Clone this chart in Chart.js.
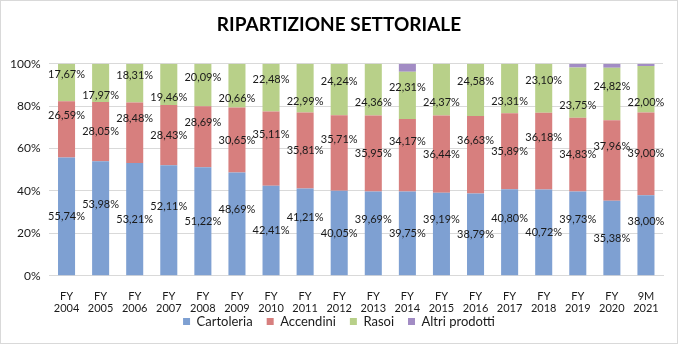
<!DOCTYPE html>
<html>
<head>
<meta charset="utf-8">
<script src="https://cdn.jsdelivr.net/npm/chart.js@4"></script>
<style>
  html, body { margin: 0; padding: 0; background: #fff; }
  #wrap { position: relative; width: 676px; height: 342px; border: 1px solid #d9d9d9; }
</style>
</head>
<body>
<div id="wrap"><canvas id="chart" width="676" height="342"></canvas></div>
<script>
// === Data ===
const categories = [
  ['FY', '2004'], ['FY', '2005'], ['FY', '2006'], ['FY', '2007'], ['FY', '2008'], ['FY', '2009'],
  ['FY', '2010'], ['FY', '2011'], ['FY', '2012'], ['FY', '2013'], ['FY', '2014'], ['FY', '2015'],
  ['FY', '2016'], ['FY', '2017'], ['FY', '2018'], ['FY', '2019'], ['FY', '2020'], ['9M', '2021']
];
const cartoleria = [55.74, 53.98, 53.21, 52.11, 51.22, 48.69, 42.41, 41.21, 40.05, 39.69, 39.75, 39.19, 38.79, 40.80, 40.72, 39.73, 35.38, 38.00];
const accendini  = [26.59, 28.05, 28.48, 28.43, 28.69, 30.65, 35.11, 35.81, 35.71, 35.95, 34.17, 36.44, 36.63, 35.89, 36.18, 34.83, 37.96, 39.00];
const rasoi      = [17.67, 17.97, 18.31, 19.46, 20.09, 20.66, 22.48, 22.99, 24.24, 24.36, 22.31, 24.37, 24.58, 23.31, 23.10, 23.75, 24.82, 22.00];
const altri      = [0, 0, 0, 0, 0, 0, 0, 0, 0, 0, 3.77, 0, 0, 0, 0, 1.69, 1.84, 1.00];
const yTicks = [0, 20, 40, 60, 80, 100];

const FONT = 'Lato, "Open Sans", sans-serif';

// labels inside the bars, staggered up/down like the original sheet
const labelPlugin = {
  id: 'segLabels',
  afterDatasetsDraw(chart) {
    const c = chart.ctx;
    // vertical nudge per series: [even index, odd index]
    const nudge = [[0, -14], [-14, 0], [-8, 13]];
    c.save();
    c.font = '11px ' + FONT;
    c.fillStyle = '#1a1a1a';
    c.textAlign = 'center';
    c.textBaseline = 'middle';
    for (let d = 0; d < 3; d++) {
      const meta = chart.getDatasetMeta(d);
      meta.data.forEach((el, i) => {
        const v = chart.data.datasets[d].data[i];
        const y = (el.y + el.base) / 2 + nudge[d][i % 2];
        c.fillText(v.toFixed(2).replace('.', ',') + '%', el.x, y);
      });
    }
    c.restore();
  }
};

// compact legend row, tucked up under the axis labels
const legendFit = {
  id: 'legendFit',
  beforeInit(chart) {
    const fit = chart.legend.fit;
    chart.legend.fit = function () {
      fit.call(this);
      this.height = 22;
    };
  },
  afterLayout(chart) {
    chart.legend.top = 300;
  }
};

const ctx = document.getElementById('chart').getContext('2d');
new Chart(ctx, {
  type: 'bar',
  data: {
    labels: categories,
    datasets: [
      { label: 'Cartoleria', data: cartoleria, backgroundColor: '#7ea0d2' },
      { label: 'Accendini', data: accendini, backgroundColor: '#d77f7e' },
      { label: 'Rasoi', data: rasoi, backgroundColor: '#b8d089' },
      { label: 'Altri prodotti', data: altri, backgroundColor: '#a28cc4' }
    ]
  },
  options: {
    responsive: false,
    animation: false,
    layout: { padding: { left: 0, right: 0, top: 6, bottom: 0 } },
    datasets: { bar: { categoryPercentage: 1, barPercentage: 0.5, borderWidth: 0 } },
    plugins: {
      title: {
        display: true,
        text: 'RIPARTIZIONE SETTORIALE',
        color: '#000',
        font: { family: FONT, size: 19, weight: 'bold' },
        padding: { top: 6, bottom: 28 }
      },
      legend: {
        position: 'bottom',
        labels: {
          boxWidth: 7, boxHeight: 7, padding: 14,
          color: '#1a1a1a',
          font: { family: FONT, size: 13 }
        }
      },
      tooltip: { enabled: false }
    },
    scales: {
      x: {
        stacked: true,
        grid: { display: false },
        border: { display: true, color: '#d9d9d9' },
        ticks: { color: '#1a1a1a', font: { family: FONT, size: 11, lineHeight: 1.15 }, maxRotation: 0, autoSkip: false, padding: 6 }
      },
      y: {
        stacked: true,
        min: 0, max: 100,
        afterBuildTicks: axis => { axis.ticks = yTicks.map(v => ({ value: v })); },
        grid: { color: '#d9d9d9', drawTicks: false },
        border: { display: false },
        ticks: { color: '#1a1a1a', font: { family: FONT, size: 12 }, padding: 9, callback: v => v + '%' }
      },
      // empty margin on the right of the plot
      yRight: {
        position: 'right',
        min: 0, max: 100,
        grid: { display: false },
        border: { display: false },
        ticks: { display: false },
        afterFit: axis => { axis.width = 14; }
      }
    }
  },
  plugins: [labelPlugin, legendFit]
});
</script>
</body>
</html>
